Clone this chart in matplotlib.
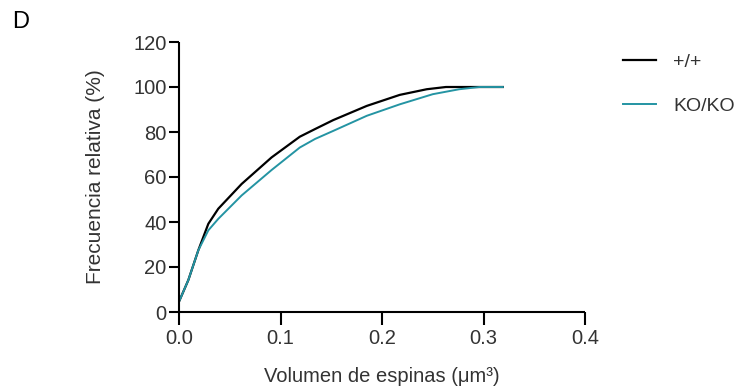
import numpy as np
import matplotlib
matplotlib.use('Agg')
import matplotlib.pyplot as plt

plt.rcParams['font.family'] = ['Liberation Sans', 'DejaVu Sans']

# cumulative frequency curves
wt_x = [0.0, 0.0092, 0.019, 0.0289, 0.0387, 0.0617, 0.0912, 0.119, 0.134,
        0.152, 0.185, 0.2175, 0.244, 0.263, 0.319]
wt_y = [4.6, 14.2, 27.4, 39.2, 45.9, 56.9, 68.7, 77.9, 81.3,
        85.3, 91.6, 96.5, 99.0, 100.0, 100.0]

ko_x = [0.0, 0.0092, 0.019, 0.0289, 0.0387, 0.0617, 0.0912, 0.119, 0.134,
        0.152, 0.185, 0.2175, 0.250, 0.276, 0.296, 0.319]
ko_y = [4.6, 14.2, 27.4, 36.3, 41.4, 51.8, 63.1, 73.1, 76.9,
        80.5, 87.2, 92.3, 96.8, 99.0, 100.0, 100.0]

labels = ['+/+', 'KO/KO']
xticks = [0.0, 0.1, 0.2, 0.3, 0.4]
yticks = [0, 20, 40, 60, 80, 100, 120]

txt = '#333333'

fig = plt.figure(figsize=(7.43, 3.91), dpi=100)
ax = fig.add_axes([179/743, 1 - 312/391, (585-179)/743, (312-42)/391])

ax.plot(wt_x, wt_y, color='black', lw=1.6, label=labels[0])
ax.plot(ko_x, ko_y, color='#2494a3', lw=1.4, label=labels[1])

ax.set_xlim(0, 0.4)
ax.set_ylim(0, 120)
ax.set_xticks(xticks)
ax.set_xticklabels(['%.1f' % v for v in xticks])
ax.set_yticks(yticks)

for s in ['top', 'right']:
    ax.spines[s].set_visible(False)
for s in ['left', 'bottom']:
    ax.spines[s].set_linewidth(1.5)
    ax.spines[s].set_capstyle('butt')

ax.tick_params(direction='out', length=9, width=1.5, labelsize=14.5,
               labelcolor=txt, pad=3)
ax.tick_params(axis='y', length=7, pad=2)

ax.set_xlabel('Volumen de espinas (μm³)', fontsize=14.5, color=txt, labelpad=14)
ax.set_ylabel('Frecuencia relativa (%)', fontsize=15, color=txt, labelpad=20)

leg = ax.legend(loc='upper left', bbox_to_anchor=(605/743, 1 - 36/391),
                bbox_transform=fig.transFigure, frameon=False, fontsize=14,
                handlelength=1.7, handletextpad=0.9, labelspacing=1.35)
for t in leg.get_texts():
    t.set_color(txt)

fig.text(12/743, 1 - 22/391, 'D', fontsize=17, color='black', va='center')

fig.savefig('out.png', dpi=100)
